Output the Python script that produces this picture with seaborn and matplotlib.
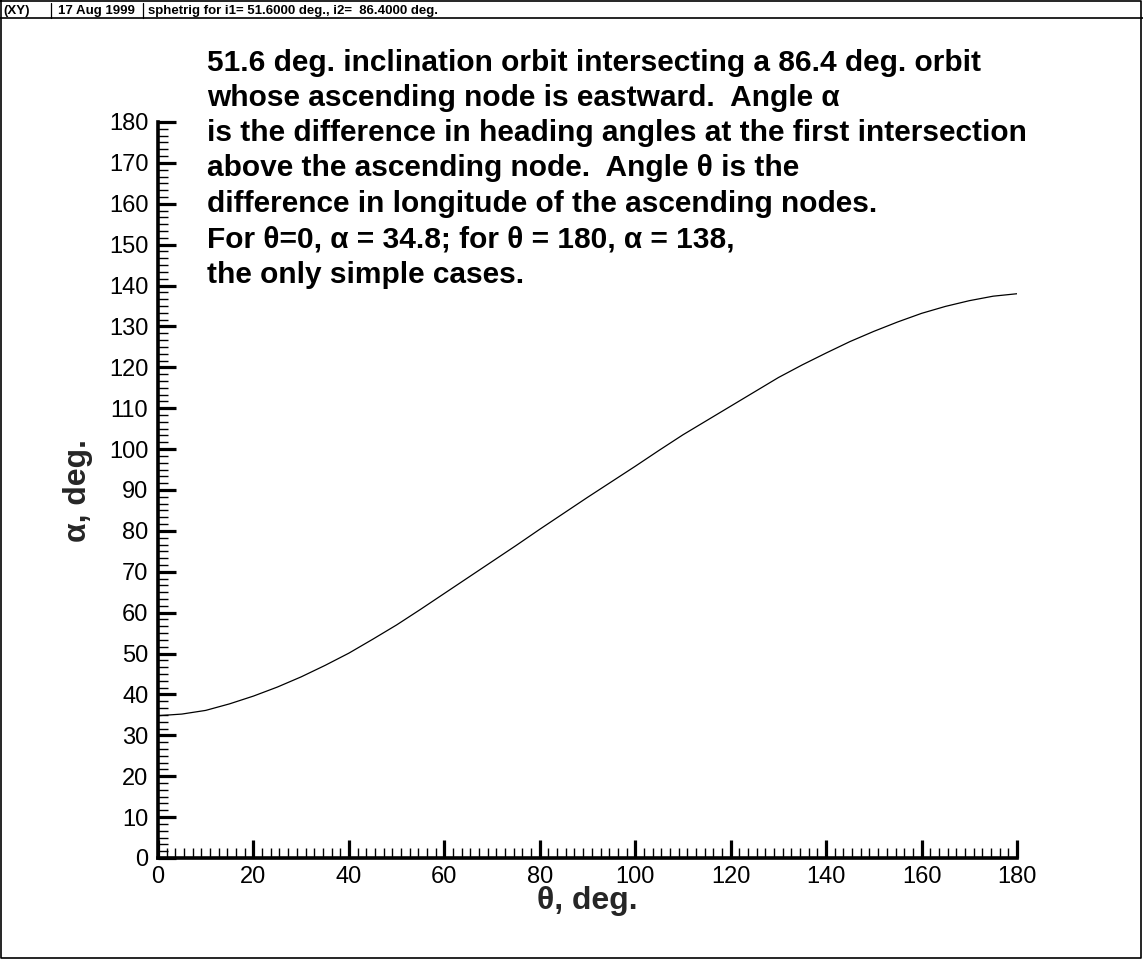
import numpy as np
import pandas as pd
import matplotlib
matplotlib.use("Agg")
import matplotlib.pyplot as plt
import seaborn as sns
from matplotlib.ticker import FixedLocator
from matplotlib.lines import Line2D

# ---- data ----
theta = [0, 5, 10, 15, 20, 25, 30, 35, 40, 45, 50, 55, 60, 65, 70, 75, 80, 85, 90,
         95, 100, 105, 110, 115, 120, 125, 130, 135, 140, 145, 150, 155, 160, 165,
         170, 175, 180]
alpha = [34.8, 35.2, 36.1, 37.7, 39.6, 41.8, 44.3, 47.1, 50.1, 53.5, 57.0, 60.8,
         64.7, 68.6, 72.5, 76.4, 80.4, 84.3, 88.2, 92.0, 95.8, 99.7, 103.5, 107.0,
         110.5, 114.0, 117.5, 120.6, 123.5, 126.3, 128.8, 131.1, 133.2, 134.9,
         136.3, 137.4, 138.0]
x_ticks = list(range(0, 181, 20))
y_ticks = list(range(0, 181, 10))

header_cells = ["(XY)", "17 Aug 1999", "sphetrig for i1= 51.6000 deg., i2=  86.4000 deg."]
note_lines = [
    "51.6 deg. inclination orbit intersecting a 86.4 deg. orbit",
    "whose ascending node is eastward.  Angle α",
    "is the difference in heading angles at the first intersection",
    "above the ascending node.  Angle θ is the",
    "difference in longitude of the ascending nodes.",
    "For θ=0, α = 34.8; for θ = 180, α = 138,",
    "the only simple cases.",
]
x_label = "θ, deg."
y_label = "α, deg."

# ---- style ----
sns.set_style("ticks")
plt.rcParams['font.family'] = ['Liberation Sans', 'DejaVu Sans']

W, H = 1143, 960
fig = plt.figure(figsize=(W / 100, H / 100), dpi=100)
fig.patch.set_facecolor("white")

def fx(px):
    return px / W

def fy(py):
    return 1 - py / H

ax_left, ax_right, ax_top, ax_bottom = 158, 1017, 122, 858
ax = fig.add_axes([fx(ax_left), fy(ax_bottom), fx(ax_right - ax_left), (ax_bottom - ax_top) / H])
ax.set_facecolor("none")

df = pd.DataFrame({"theta": theta, "alpha": alpha})
sns.lineplot(data=df, x="theta", y="alpha", ax=ax, color="black", linewidth=0.9)

ax.set_xlim(0, 180)
ax.set_ylim(0, 180)
ax.xaxis.set_major_locator(FixedLocator(x_ticks))
ax.yaxis.set_major_locator(FixedLocator(y_ticks))
ax.set_xticklabels([str(v) for v in x_ticks])
ax.set_yticklabels([str(v) for v in y_ticks])
x_minor = [a + k * 20 / 11 for a in x_ticks[:-1] for k in range(1, 11)]
y_minor = [a + k * 10 / 6 for a in y_ticks[:-1] for k in range(1, 6)]
ax.xaxis.set_minor_locator(FixedLocator(x_minor))
ax.yaxis.set_minor_locator(FixedLocator(y_minor))

for s in ["top", "right"]:
    ax.spines[s].set_visible(False)
for s in ["left", "bottom"]:
    ax.spines[s].set_linewidth(2.6)
    ax.spines[s].set_color("black")

ax.tick_params(which="both", bottom=True, left=True, top=False, right=False)
ax.tick_params(which="major", direction="in", length=13, width=2.3, color="black",
               labelsize=17, labelcolor="black")
ax.tick_params(which="minor", direction="in", length=7.5, width=1.0, color="black")
ax.tick_params(axis="x", which="major", pad=6)
ax.tick_params(axis="y", which="major", pad=7)

ax.set_xlabel(x_label, fontsize=23, fontweight="bold", ha="center", va="center")
ax.set_ylabel(y_label, fontsize=23, fontweight="bold", ha="center", va="center")
ax.xaxis.set_label_coords(0.5, (ax_bottom - 901) / (ax_bottom - ax_top))
ax.yaxis.set_label_coords((78 - ax_left) / (ax_right - ax_left), 0.5)

# ---- annotation ----
baselines = [71, 106, 141, 176, 212, 247, 283]
for txt, b in zip(note_lines, baselines):
    fig.text(fx(207), fy(b), txt, fontsize=21.5, fontweight="bold", ha="left",
             va="baseline", color="black")

# ---- header / frame ----
fig.add_artist(Line2D([fx(1), fx(1141), fx(1141), fx(1), fx(1)],
                      [fy(1), fy(1), fy(958), fy(958), fy(1)],
                      transform=fig.transFigure, color="black", linewidth=1.2))
fig.add_artist(Line2D([0, 1], [fy(18), fy(18)], transform=fig.transFigure,
                      color="black", linewidth=1.2))
for xp in [51, 143]:
    fig.add_artist(Line2D([fx(xp), fx(xp)], [fy(3), fy(18)], transform=fig.transFigure,
                          color="black", linewidth=0.9))
for txt, xp in zip(header_cells, [3, 58, 148]):
    fig.text(fx(xp), fy(14), txt, fontsize=9.5, fontweight="bold", ha="left",
             va="baseline", color="black")

fig.savefig("out.png", dpi=100, facecolor="white")
